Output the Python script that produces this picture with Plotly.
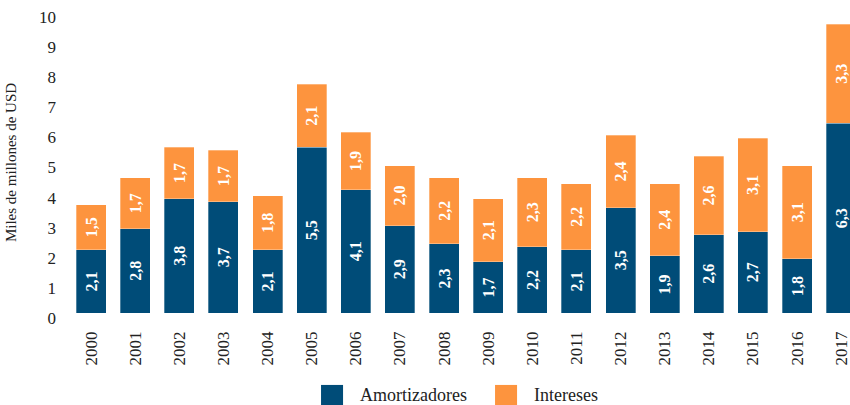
import plotly.graph_objects as go

years = [str(y) for y in range(2000, 2018)]
amortizadores = [2.1, 2.8, 3.8, 3.7, 2.1, 5.5, 4.1, 2.9, 2.3, 1.7, 2.2, 2.1, 3.5, 1.9, 2.6, 2.7, 1.8, 6.3]
intereses = [1.5, 1.7, 1.7, 1.7, 1.8, 2.1, 1.9, 2.0, 2.2, 2.1, 2.3, 2.2, 2.4, 2.4, 2.6, 3.1, 3.1, 3.3]
y_ticks = list(range(0, 11))

BLUE = "#004C78"
ORANGE = "#FD943E"
FONT = "Liberation Serif"

fig = go.Figure()
for name, vals, col in [("Amortizadores", amortizadores, BLUE), ("Intereses", intereses, ORANGE)]:
    fig.add_trace(go.Bar(
        x=years, y=vals, name=name,
        marker=dict(color=col, line=dict(width=0.6, color="rgba(255,255,255,0.5)")),
        texttemplate="<b>%{y:.1f}</b>", textposition="inside", insidetextanchor="middle",
        textangle=-90, textfont=dict(family=FONT, size=16, color="white"),
        constraintext="none", showlegend=False, cliponaxis=True,
    ))

# legend drawn as shapes + text
legend_items = [("Amortizadores", BLUE, 0.3227), ("Intereses", ORANGE, 0.5455)]
for name, col, x0 in legend_items:
    fig.add_shape(type="rect", xref="paper", yref="paper", x0=x0, x1=x0 + 0.0282,
                  y0=-0.312, y1=-0.239, fillcolor=col, line=dict(width=0))
    fig.add_annotation(xref="paper", yref="paper", x=x0 + 0.0474, y=-0.272,
                       text=name, showarrow=False, xanchor="left", yanchor="middle",
                       font=dict(family=FONT, size=18, color="#222"))

fig.update_layout(
    width=850, height=405,
    margin=dict(l=69, r=0, t=12, b=92, autoexpand=False),
    barmode="stack", bargap=0.32,
    separators=",.",
    plot_bgcolor="white", paper_bgcolor="white",
    font=dict(family=FONT, size=17, color="#222"),
)
fig.update_xaxes(range=[-0.5, 17.2], tickangle=-90, showgrid=False, showline=False,
                 ticks="", tickfont=dict(size=17), ticklabelstandoff=14, automargin=False)
fig.update_yaxes(range=[0, 10], tickvals=y_ticks, showgrid=False, zeroline=False,
                 showline=False, ticks="", tickfont=dict(size=17), ticklabelstandoff=12,
                 ticklabelshift=5, automargin=False,
                 title=dict(text="Miles de millones de USD", font=dict(size=15), standoff=18))

fig.write_html("out.html", config={"displayModeBar": False},
               post_script="document.body.style.margin='0';document.body.style.overflow='hidden';")
